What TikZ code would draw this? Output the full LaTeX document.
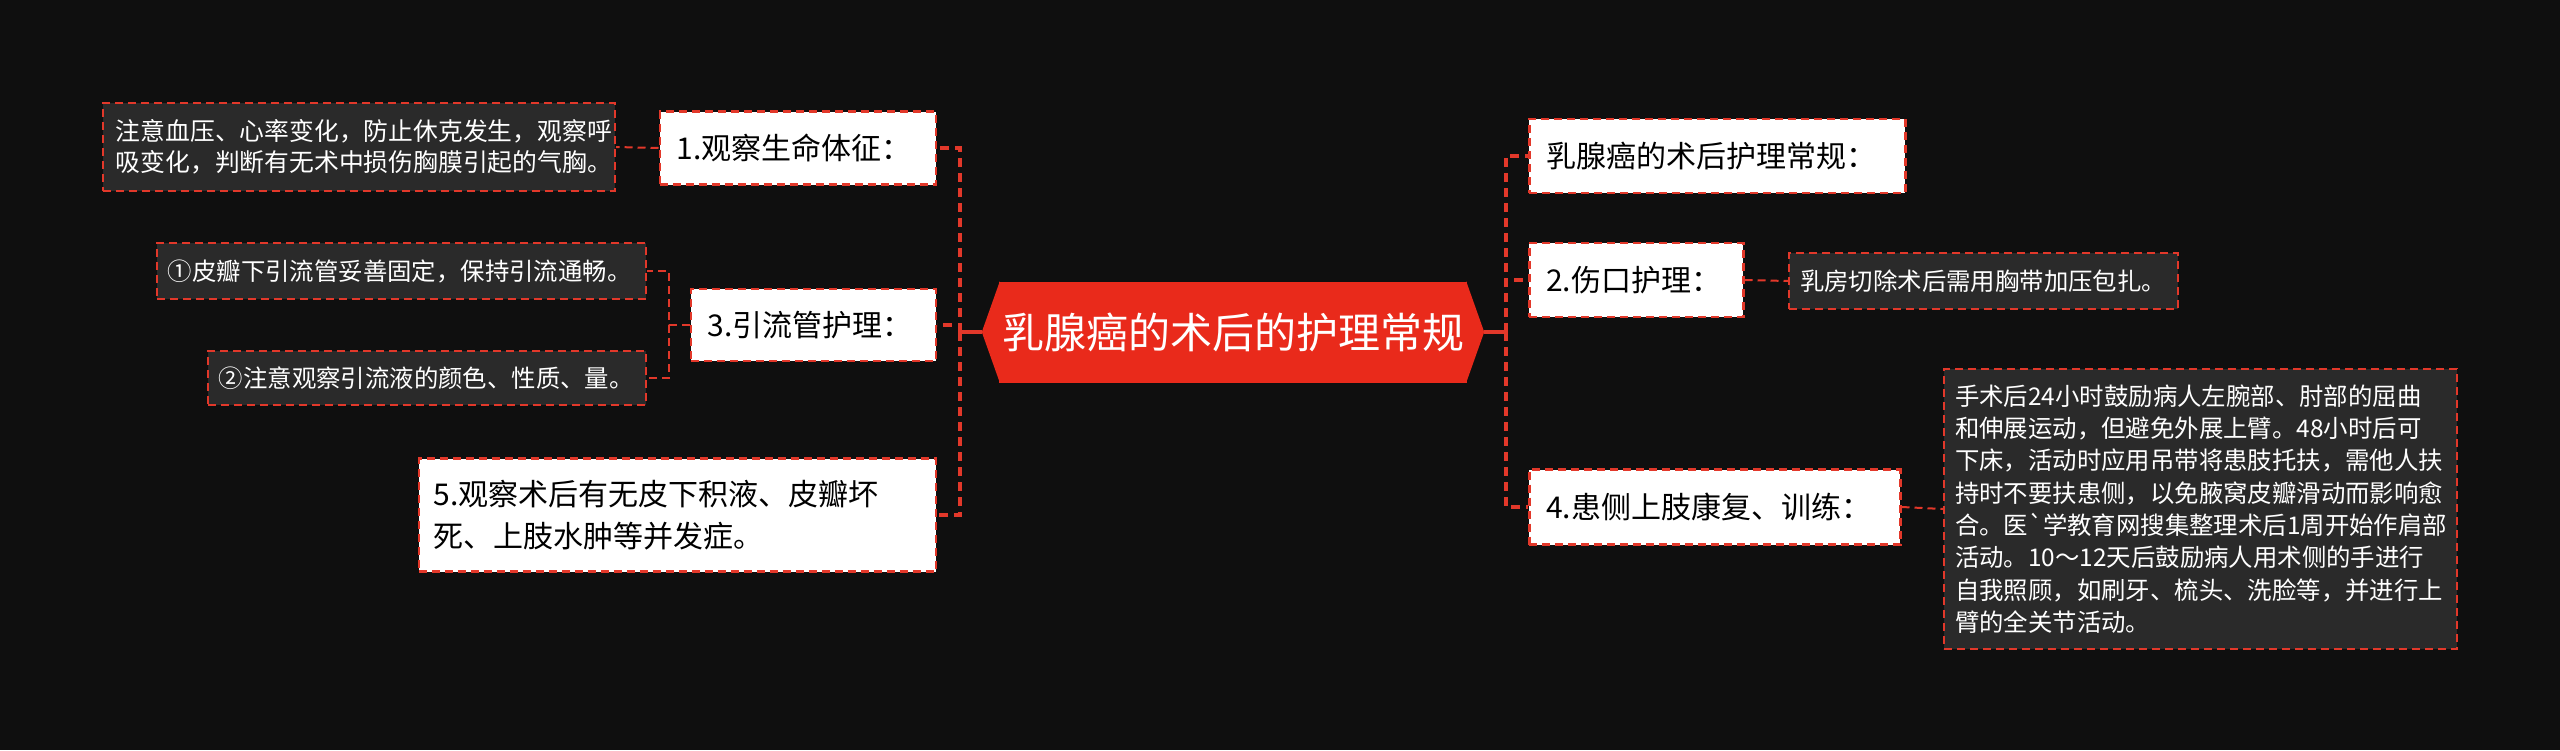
\documentclass[tikz,border=0pt]{standalone}
\usepackage{fontspec}
\newfontfamily\cjk{Noto Sans CJK SC}
\usepackage{tikz}
\definecolor{bgblack}{RGB}{15,15,15}
\definecolor{subgray}{RGB}{42,42,42}
\definecolor{linered}{RGB}{226,56,42}
\definecolor{rootred}{RGB}{233,42,27}

\begin{document}
\begin{tikzpicture}[x=1pt, y=-1pt, font=\cjk,
  root/.style={fill=rootred, text=white, inner sep=0pt,
    font=\cjk\fontsize{42}{50}\selectfont,
    minimum width=468pt, minimum height=101pt},
  topic/.style={draw=linered, line width=2.5pt, dash pattern=on 8pt off 5pt,
    fill=white, text=black, align=left, inner xsep=17pt, inner ysep=0pt,
    font=\cjk\fontsize{30}{42}\selectfont},
  sub/.style={draw=linered, line width=2.2pt, dash pattern=on 8pt off 5pt,
    fill=subgray, text=white, align=left, inner xsep=11pt, inner ysep=0pt,
    font=\cjk\fontsize{24.4}{32.3}\selectfont},
  link/.style={draw=linered, line width=3.5pt, dash pattern=on 9pt off 6pt},
  sublink/.style={draw=linered, line width=2pt, dash pattern=on 8pt off 5pt}]
\path[use as bounding box, fill=bgblack] (0,0) rectangle (2560,750);

% ---- root ----
\node[root] (root) at (1233,332) {乳腺癌的术后的护理常规};
\fill[rootred] ([xshift=1pt]root.north west) -- ([xshift=-17pt]root.west)
  -- ([xshift=1pt]root.south west) -- cycle;
\fill[rootred] ([xshift=-1pt]root.north east) -- ([xshift=17pt]root.east)
  -- ([xshift=-1pt]root.south east) -- cycle;
\coordinate (rootL) at ([xshift=-17pt]root.west);
\coordinate (rootR) at ([xshift=17pt]root.east);
\coordinate (lspine) at (960,332);
\coordinate (rspine) at (1506,332);

% ---- left branches ----
\node[topic, anchor=east, text width=242pt, minimum height=73pt] (n1) at (937,148)
  {1.观察生命体征：};
\node[topic, anchor=east, text width=211pt, minimum height=72pt] (n3) at (937,325)
  {3.引流管护理：};
\node[topic, anchor=east, inner xsep=15pt, text width=487pt, minimum height=113pt] (n5) at (937,515)
  {5.观察术后有无皮下积液、皮瓣坏\\死、上肢水肿等并发症。};

\node[sub, anchor=east, inner xsep=13pt, text width=486pt, minimum height=88pt,
  font=\cjk\fontsize{24.8}{31}\selectfont] (n1c) at (616,147)
  {注意血压、心率变化，防止休克发生，观察呼\\吸变化，判断有无术中损伤胸膜引起的气胸。};
\node[sub, anchor=east, text width=467pt, minimum height=56pt] (n3a) at (647,271)
  {①皮瓣下引流管妥善固定，保持引流通畅。};
\node[sub, anchor=east, text width=416pt, minimum height=54pt] (n3b) at (647,378)
  {②注意观察引流液的颜色、性质、量。};

% ---- right branches ----
\node[topic, anchor=west, text width=342pt, minimum height=74pt] (r1) at (1528,156)
  {乳腺癌的术后护理常规：};
\node[topic, anchor=west, text width=180pt, minimum height=74pt] (r2) at (1528,280)
  {2.伤口护理：};
\node[topic, anchor=west, text width=337pt, minimum height=75pt] (r4) at (1528,507)
  {4.患侧上肢康复、训练：};

\node[sub, anchor=west, text width=367pt, minimum height=56pt] (r2c) at (1788,281)
  {乳房切除术后需用胸带加压包扎。};
\node[sub, anchor=west, text width=491pt, minimum height=280pt] (r4c) at (1943,509)
  {手术后24小时鼓励病人左腕部、肘部的屈曲\\
   和伸展运动，但避免外展上臂。48小时后可\\
   下床，活动时应用吊带将患肢托扶，需他人扶\\
   持时不要扶患侧，以免腋窝皮瓣滑动而影响愈\\
   合。医`学教育网搜集整理术后1周开始作肩部\\
   活动。10～12天后鼓励病人用术侧的手进行\\
   自我照顾，如刷牙、梳头、洗脸等，并进行上\\
   臂的全关节活动。};

% ---- connectors ----
\draw[link, solid] (rootL) -- (lspine);
\draw[link, solid] (rootR) -- (rspine);
\draw[link] (lspine) |- (n1.east);
\draw[link] (lspine) |- (n3.east);
\draw[link] (lspine) |- (n5.east);
\draw[link] (rspine) |- (r1.west);
\draw[link] (rspine) |- (r2.west);
\draw[link] (rspine) |- (r4.west);

\coordinate (n3spine) at (669,325);
\draw[sublink] (n1.west) -- (n1c.east);
\draw[sublink] (n3.west) -- (n3spine) |- (n3a.east);
\draw[sublink] (n3spine) |- (n3b.east);
\draw[sublink] (r2.east) -- (r2c.west);
\draw[sublink] (r4.east) -- (r4c.west);
\end{tikzpicture}
\end{document}
